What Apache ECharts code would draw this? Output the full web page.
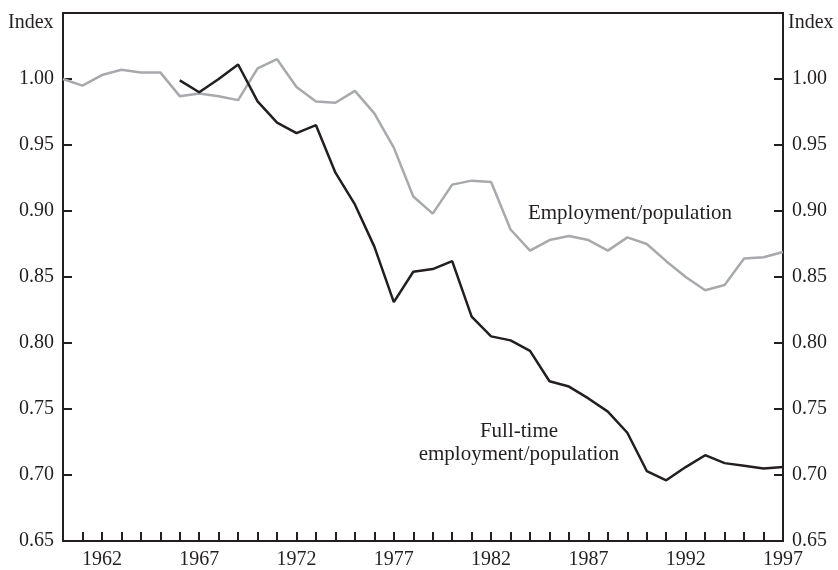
<!DOCTYPE html>
<html>
<head>
<meta charset="utf-8">
<script src="https://cdn.jsdelivr.net/npm/echarts@6/dist/echarts.min.js"></script>
<style>
  html, body { margin: 0; padding: 0; background: #fff; }
  #chart { width: 838px; height: 570px; }
</style>
</head>
<body>
<div id="chart"></div>
<script>
// years on the x axis
var empYears = [1960, 1961, 1962, 1963, 1964, 1965, 1966, 1967, 1968, 1969,
  1970, 1971, 1972, 1973, 1974, 1975, 1976, 1977, 1978, 1979,
  1980, 1981, 1982, 1983, 1984, 1985, 1986, 1987, 1988, 1989,
  1990, 1991, 1992, 1993, 1994, 1995, 1996, 1997];
// employment/population index (gray)
var empValues = [1.000, 0.995, 1.003, 1.007, 1.005, 1.005, 0.987, 0.989, 0.987, 0.984,
  1.008, 1.015, 0.994, 0.983, 0.982, 0.991, 0.974, 0.948, 0.911, 0.898,
  0.920, 0.923, 0.922, 0.886, 0.870, 0.878, 0.881, 0.878, 0.870, 0.880,
  0.875, 0.862, 0.850, 0.840, 0.844, 0.864, 0.865, 0.869];

var ftYears = [1966, 1967, 1968, 1969, 1970, 1971, 1972, 1973, 1974, 1975,
  1976, 1977, 1978, 1979, 1980, 1981, 1982, 1983, 1984, 1985,
  1986, 1987, 1988, 1989, 1990, 1991, 1992, 1993, 1994, 1995, 1996, 1997];
// full-time employment/population index (black)
var ftValues = [0.999, 0.990, 1.000, 1.011, 0.983, 0.967, 0.959, 0.965, 0.929, 0.905,
  0.873, 0.831, 0.854, 0.856, 0.862, 0.820, 0.805, 0.802, 0.794, 0.771,
  0.767, 0.758, 0.748, 0.732, 0.703, 0.696, 0.706, 0.715, 0.709, 0.707, 0.705, 0.706];

var xLabelYears = [1962, 1967, 1972, 1977, 1982, 1987, 1992, 1997];
var yTickLabels = ["0.65", "0.70", "0.75", "0.80", "0.85", "0.90", "0.95", "1.00"];

function pairs(xs, ys) {
  return xs.map(function (x, i) { return [x, ys[i]]; });
}

var font = "Liberation Serif";
var ink = "#231f20";

function yLabel(v) {
  var s = v.toFixed(2);
  return yTickLabels.indexOf(s) >= 0 ? s : "";
}

function yAxis(pos) {
  return {
    type: "value",
    position: pos,
    min: 0.65,
    max: 1.05,
    interval: 0.05,
    axisLine: { show: true, lineStyle: { color: ink, width: 2 } },
    axisTick: { show: true, inside: true, length: 9, lineStyle: { color: ink, width: 2 } },
    axisLabel: {
      margin: 9,
      fontFamily: font,
      fontSize: 20,
      color: ink,
      showMaxLabel: true,
      showMinLabel: true,
      formatter: yLabel,
    },
    splitLine: { show: false },
  };
}

var chart = echarts.init(document.getElementById("chart"));
var option = {
  animation: false,
  grid: {
    left: 63,
    right: 55,
    top: 13,
    bottom: 28,
    show: true,
    borderColor: ink,
    borderWidth: 2,
  },
  xAxis: {
    type: "value",
    min: 1960,
    max: 1997,
    interval: 1,
    axisLine: { show: true, onZero: false, lineStyle: { color: ink, width: 2 } },
    axisTick: { show: true, inside: true, length: 9, lineStyle: { color: ink, width: 2 } },
    axisLabel: {
      margin: 9,
      fontFamily: font,
      fontSize: 20,
      color: ink,
      showMaxLabel: true,
      formatter: function (v) {
        return xLabelYears.indexOf(v) >= 0 ? String(v) : "";
      },
    },
    splitLine: { show: false },
  },
  yAxis: [yAxis("left"), yAxis("right")],
  series: [
    {
      name: "Employment/population",
      type: "line",
      data: pairs(empYears, empValues),
      showSymbol: false,
      lineStyle: { color: "#a7a9ac", width: 2.5 },
      z: 2,
    },
    {
      name: "Full-time employment/population",
      type: "line",
      data: pairs(ftYears, ftValues),
      showSymbol: false,
      lineStyle: { color: ink, width: 2.5 },
      z: 3,
    },
  ],
  graphic: [
    {
      type: "text", left: 8, top: 13,
      style: { text: "Index", font: "20px " + font, fill: ink },
    },
    {
      type: "text", left: 788, top: 13,
      style: { text: "Index", font: "20px " + font, fill: ink },
    },
    {
      type: "text", x: 630, y: 213,
      style: { text: "Employment/population", font: "21px " + font, fill: ink, align: "center", verticalAlign: "middle" },
    },
    {
      type: "text", x: 519, y: 443,
      style: {
        text: "Full-time\nemployment/population",
        font: "21px " + font,
        lineHeight: 23,
        fill: ink,
        align: "center",
        verticalAlign: "middle",
      },
    },
  ],
};
chart.setOption(option);
</script>
</body>
</html>
